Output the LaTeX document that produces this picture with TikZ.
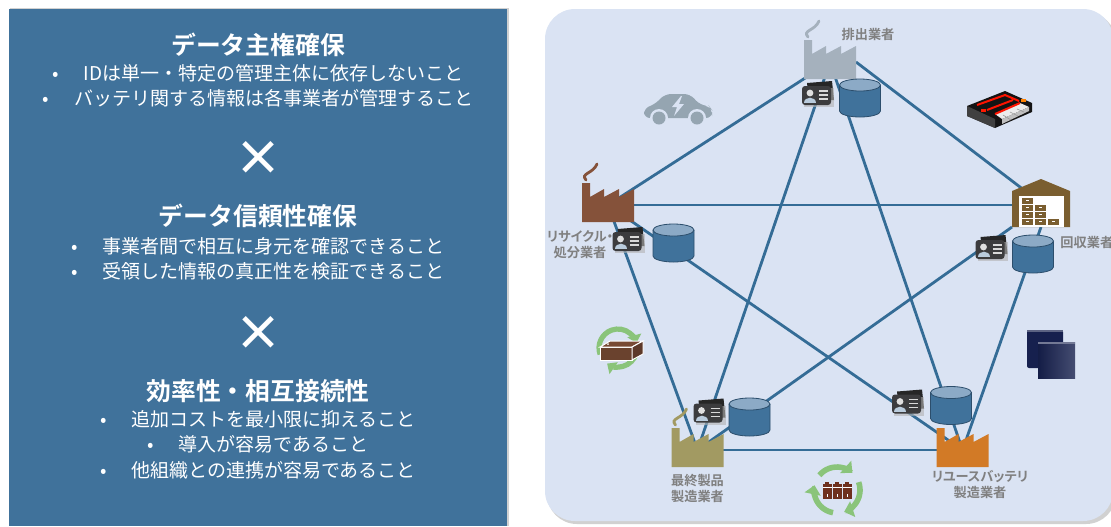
\documentclass[tikz,border=0pt]{standalone}
\usepackage{fontspec}
\setmainfont{Noto Sans CJK JP}[BoldFont={Noto Sans CJK JP Bold}]
\newfontfamily\tagfont{Noto Sans CJK JP Bold}[RawFeature=+palt]
\usetikzlibrary{arrows.meta}

\definecolor{panelblue}{RGB}{64,114,155}
\definecolor{panelbg}{RGB}{218,227,243}
\definecolor{linkblue}{RGB}{52,108,150}
\definecolor{emitgray}{RGB}{165,177,189}
\definecolor{recycbrown}{RGB}{133,82,58}
\definecolor{storebrown}{RGB}{122,94,48}
\definecolor{prodolive}{RGB}{162,154,98}
\definecolor{reuseorange}{RGB}{210,122,38}
\definecolor{dbblue}{RGB}{64,114,155}
\definecolor{dbtop}{RGB}{140,170,198}
\definecolor{dbedge}{RGB}{44,78,108}
\definecolor{carddark}{RGB}{60,60,62}
\definecolor{labelgray}{RGB}{128,128,128}
\definecolor{cargray}{RGB}{149,165,177}
\definecolor{leafgreen}{RGB}{138,196,122}
\definecolor{cellbrown}{RGB}{110,48,30}
\definecolor{navy}{RGB}{22,32,78}

\newcommand{\bpt}{•\hspace{1.3em}}

\tikzset{
  link/.style={draw=linkblue, line width=1.4pt},
  site/.style={inner sep=0pt, outer sep=0pt, minimum width=26pt, minimum height=19.5pt},
  heading/.style={inner sep=0pt, text=white, font=\fontsize{12.4}{14}\selectfont\bfseries},
  point/.style={inner sep=0pt, text=white, font=\fontsize{9.5}{11}\selectfont},
  cross/.style={inner sep=0pt, text=white, font=\fontsize{24}{24}\selectfont\bfseries},
  tag/.style={inner sep=0pt, text=labelgray, align=center, font=\tagfont\fontsize{6.6}{8}\selectfont},
  pics/factory/.style={code={
    \fill[#1] (-26,17) -- (-26,-22) -- (-18,-22) -- (-18,-8) -- (-4,-16) -- (-4,-8)
      -- (11,-16) -- (11,-8) -- (26,-16) -- (26,17) -- cycle;
  }},
  pics/smoke/.style={code={
    \draw[#1, line width=1.4pt, line cap=round] (-22,-25) .. controls (-28,-32) and (-15,-31) .. (-11,-41);
  }},
  pics/warehouse/.style={code={
    \fill[storebrown] (-29,24) -- (-29,-12) -- (0,-24) -- (29,-12) -- (29,24) -- cycle;
    \fill[white] (-22,-7) rectangle (23,24);
    \foreach \bx/\by in {-19/-5, -19/2, -6/2, -19/9, -6/9, -19/16, -6/16, 7/16} {
      \fill[storebrown] (\bx,\by) rectangle ++(11,6);
      \draw[white, line width=0.5pt] (\bx+4,\by+2) -- ++(3,0);
    }
  }},
  pics/datastore/.style={code={
    \fill[dbblue] (-20.5,-13) -- (-20.5,13) arc[start angle=180, end angle=0, x radius=20.5, y radius=6] -- (20.5,-13) -- cycle;
    \draw[dbedge, line width=0.4pt] (-20.5,-13) -- (-20.5,13) arc[start angle=180, end angle=0, x radius=20.5, y radius=6] -- (20.5,-13);
    \filldraw[fill=dbtop, draw=dbedge, line width=0.4pt] (0,-13) ellipse [x radius=20.5, y radius=6];
  }},
  pics/idcard/.style={code={
    \fill[black!85] (-10,-12) -- (15,-14) -- (17,5) -- (-8,7) -- cycle;
    \fill[black!30, opacity=0.6] (-13,-7) rectangle (17,12);
    \fill[carddark, rounded corners=1.5pt] (-15,-9) rectangle (14,10);
    \fill[black!12] (-7,-2) circle (3.4);
    \fill[dbtop!60!white] (-13,8) .. controls (-13,1) and (-1,1) .. (-1,8) -- cycle;
    \draw[black!15, line width=0.9pt] (2,-4) -- (11,-4) (2,0) -- (11,0) (2,4) -- (11,4);
  }},
  pics/evcar/.style={code={
    \fill[cargray, rounded corners=3pt] (-34,9) -- (-34,-1) -- (-24,-4) -- (-13,-15) -- (12,-15)
      -- (22,-4) -- (31,-3) -- (34,1) -- (34,9) -- cycle;
    \foreach \wx in {-19,19} {
      \fill[panelbg] (\wx,9) circle (9);
      \fill[cargray] (\wx,9) circle (6.5);
    }
    \fill[panelbg] (3,-13) -- (-6,-2) -- (-1,-2) -- (-4,7) -- (6,-5) -- (1,-5) -- (4,-13) -- cycle;
  }},
  pics/batterypack/.style={code={
    \fill[black!92] (-32,-2) -- (6,-17) -- (33,-5) -- (33,4) -- (-4,20) -- (-32,8) -- cycle;
    \fill[black!75] (-32,-2) -- (-4,11) -- (-4,20) -- (-32,8) -- cycle;
    \fill[black!8] (-4,6) -- (21,-5) -- (30,-1) -- (3,11) -- cycle;
    \fill[black!25] (3,11) -- (30,-1) -- (30,3) -- (3,16) -- cycle;
    \draw[black!40, line width=0.3pt] (4,7) -- (12,12) (11,4) -- (19,8) (18,1) -- (25,4);
    \draw[red!85!orange, line width=1pt] (-22,-3) -- (6,-13) -- (20,-7) (-12,2) -- (14,-8) (-4,6) -- (21,-5);
    \fill[orange] (22,-9) rectangle ++(5,3);
    \fill[red!80!orange] (-18,1) rectangle ++(5,3);
  }},
  pics/modules/.style={code={
    \fill[navy, rounded corners=1pt] (-24,-24) rectangle (12,14);
    \fill[navy!70!white] (-24,-24) rectangle (12,-22);
    \shade[left color=navy!90!black, right color=navy!80!white] (-13,-12) rectangle (24,24);
    \fill[navy!60!white] (-13,-12) rectangle (24,-10);
  }},
  pics/recyclebox/.style={code={
    \draw[leafgreen, line width=2.6pt, -{Triangle[length=4pt, width=7pt]}] (160:19) arc[start angle=160, end angle=345, radius=19];
    \draw[leafgreen, line width=2.6pt, -{Triangle[length=4pt, width=7pt]}] (15:19) arc[start angle=15, end angle=125, radius=19];
    \filldraw[fill=recycbrown!80!black, draw=white, line width=0.5pt] (-18,-1) rectangle (14,12);
    \filldraw[fill=recycbrown!90!black, draw=white, line width=0.5pt] (-18,-1) -- (-8,-7) -- (25,-7) -- (14,-1) -- cycle;
    \filldraw[fill=recycbrown!70!black, draw=white, line width=0.5pt] (14,-1) -- (25,-7) -- (25,6) -- (14,12) -- cycle;
    \fill[white] (-10,-4) circle (1);
  }},
  pics/recyclecells/.style={code={
    \foreach \a in {100,220,340}
      \draw[leafgreen, line width=2.8pt, -{Triangle[length=4.5pt, width=8pt]}] (\a:23) arc[start angle=\a, end angle=\a+92, radius=23];
    \foreach \cx in {-10,0,10} {
      \fill[cellbrown] (\cx-4.5,-6) rectangle (\cx+4.5,9);
      \fill[cellbrown] (\cx-2,-8.5) rectangle (\cx+2,-6);
      \draw[white, line width=0.4pt] (\cx-4.5,-3) -- (\cx+4.5,-3);
      \draw[white, line width=0.5pt] (\cx,4) -- (\cx,6.5);
    }
  }}
}

\begin{document}
\begin{tikzpicture}[x=0.5pt, y=-0.5pt]
\useasboundingbox (0,0) rectangle (1111,526);

\fill[black!18] (10,7.5) rectangle (509,526);
\fill[panelblue] (9,9) rectangle (507,526);
\fill[black!18, rounded corners=15pt] (547,12) rectangle (1116,524);
\fill[panelbg, rounded corners=15pt] (545,9) rectangle (1113,521);

\node[heading] (sov) at (258,45) {データ主権確保};
\node[point] (sov1) at (258,73) {\bpt IDは単一・特定の管理主体に依存しないこと};
\node[point] (sov2) at (258,98) {\bpt バッテリ関する情報は各事業者が管理すること};
\node[cross] (x1) at (258,158) {×};
\node[heading] (trust) at (258,216) {データ信頼性確保};
\node[point] (trust1) at (258,246) {\bpt 事業者間で相互に身元を確認できること};
\node[point] (trust2) at (258,271) {\bpt 受領した情報の真正性を検証できること};
\node[cross] (x2) at (258,333) {×};
\node[heading] (eff) at (258,391) {効率性・相互接続性};
\node[point] (eff1) at (258,419) {\bpt 追加コストを最小限に抑えること};
\node[point] (eff2) at (258,444) {\bpt 導入が容易であること};
\node[point] (eff3) at (258,470) {\bpt 他組織との連携が容易であること};

\node[site] (emit) at (830,62) {};
\node[site] (recyc) at (608,205) {};
\node[site, minimum width=29pt, minimum height=24pt] (collect) at (1041,203) {};
\node[site] (prod) at (697.5,450) {};
\node[site] (reuse) at (962.5,450) {};

\draw[link] (emit.center) -- (recyc.center);
\draw[link] (emit.east) -- (collect.center);
\draw[link] (emit.center) -- (prod.center);
\draw[link] (emit.center) -- (reuse.center);
\draw[link] (recyc.center) -- (recyc -| collect);
\draw[link] (recyc.center) -- (prod.center);
\draw[link] (recyc.center) -- (reuse.center);
\draw[link] (collect.south west) -- (prod.center);
\draw[link] (collect.south) -- (reuse.center);
\draw[link] (prod.center) -- (reuse.center);

\pic at (678,109) {evcar};
\pic at (999,108) {batterypack};
\pic at (1051,354) {modules};
\pic at (618,348) {recyclebox};
\pic at (837,490) {recyclecells};

\pic at (emit) {smoke=emitgray};
\pic at (emit) {factory=emitgray};
\pic at (recyc) {smoke=recycbrown};
\pic at (recyc) {factory=recycbrown};
\pic at (collect) {warehouse};
\pic at (prod) {smoke=prodolive};
\pic at (prod) {factory=prodolive};
\pic at (reuse) {factory=reuseorange};

\node[tag] (emit-tag) at (868,34) {排出業者};
\node[tag] (recyc-tag) at (580,245) {リサイクル・\\処分業者};
\node[tag, anchor=west] (collect-tag) at (1060,242) {回収業者};
\node[tag] (prod-tag) at (697.5,488) {最終製品\\製造業者};
\node[tag] (reuse-tag) at (980,485) {リユースバッテリ\\製造業者};

\pic at (817,95) {idcard};
\pic at (860,98) {datastore};
\pic at (627.5,241) {idcard};
\pic at (673.5,243) {datastore};
\pic at (990.5,249) {idcard};
\pic at (1033,254) {datastore};
\pic at (708.5,412.5) {idcard};
\pic at (749.5,417) {datastore};
\pic at (907,403.5) {idcard};
\pic at (951,405.5) {datastore};
\end{tikzpicture}
\end{document}
